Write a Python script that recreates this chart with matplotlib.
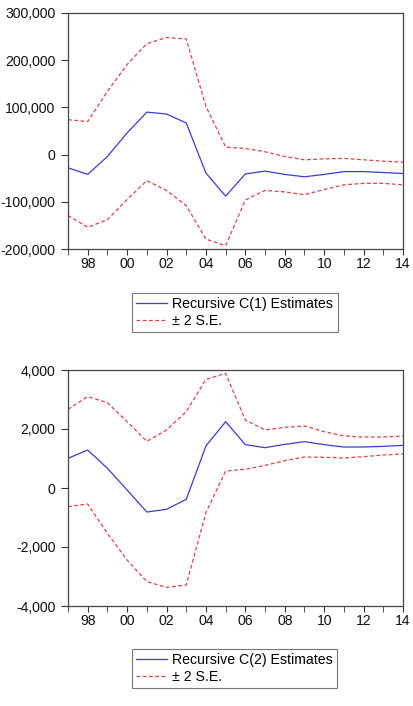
import numpy as np
import matplotlib.pyplot as plt
from matplotlib.ticker import FuncFormatter, MultipleLocator

# ── Data ──────────────────────────────────────────────────────────────────────
years = list(range(1997, 2015))

c1_est = [-28000, -42000, -4000, 46000, 90000, 86000, 67000, -39000, -88000,
          -41000, -35000, -42000, -47000, -42000, -36000, -36000, -38000, -40000]
c1_upper = [74000, 70000, 134000, 191000, 235000, 248000, 245000, 102000, 16000,
            13000, 6000, -4000, -11000, -9000, -8000, -11000, -14000, -16000]
c1_lower = [-129000, -154000, -138000, -95000, -55000, -76000, -108000, -179000, -193000,
            -96000, -76000, -79000, -85000, -74000, -64000, -61000, -61000, -64000]

c2_est = [1006, 1288, 667, -68, -814, -723, -384, 1424, 2249,
          1469, 1367, 1480, 1571, 1469, 1390, 1390, 1412, 1446]
c2_upper = [2667, 3096, 2893, 2249, 1582, 1966, 2588, 3684, 3887,
            2305, 1966, 2056, 2102, 1910, 1763, 1729, 1729, 1763]
c2_lower = [-633, -542, -1537, -2441, -3175, -3367, -3288, -836, 576,
            633, 768, 927, 1051, 1040, 1017, 1062, 1119, 1153]

BLUE = "#3b3bd6"
RED = "#e0404a"

plt.rcParams["font.family"] = ["Liberation Sans", "DejaVu Sans"]

fig = plt.figure(figsize=(4.13, 7.06), dpi=100)
W, H = 413, 706


def panel(rect_px, est, upper, lower, ylim, ystep, label, legend_px):
    x0, y0, x1, y1 = rect_px
    ax = fig.add_axes([x0 / W, 1 - y1 / H, (x1 - x0) / W, (y1 - y0) / H])
    l1, = ax.plot(years, est, color=BLUE, lw=0.9)
    l2, = ax.plot(years, upper, color=RED, lw=0.9, ls=(0, (3, 2)))
    ax.plot(years, lower, color=RED, lw=0.9, ls=(0, (3, 2)))

    ax.set_xlim(1997, 2014)
    ax.set_ylim(*ylim)
    ax.xaxis.set_minor_locator(MultipleLocator(1))
    ax.set_xticks(range(1998, 2015, 2))
    ax.xaxis.set_major_formatter(FuncFormatter(lambda v, p: f"{int(v) % 100:02d}"))
    ax.yaxis.set_major_locator(MultipleLocator(ystep))
    ax.yaxis.set_major_formatter(FuncFormatter(lambda v, p: f"{int(v):,}"))

    ax.tick_params(axis="both", which="both", direction="out", labelsize=10.1,
                   color="#333333", labelcolor="#111111")
    ax.tick_params(axis="x", which="both", length=4, pad=2)
    ax.tick_params(axis="y", length=5, pad=4)
    for s in ax.spines.values():
        s.set_color("#444444")
        s.set_linewidth(0.9)

    leg = fig.legend([l1, l2], [label, "± 2 S.E."], loc="upper left",
                     bbox_to_anchor=(legend_px[0] / W, 1 - legend_px[1] / H),
                     bbox_transform=fig.transFigure, fontsize=10.2, frameon=True,
                     fancybox=False, edgecolor="#555555", handlelength=2.2,
                     handletextpad=0.35, borderpad=0.3, labelspacing=0.2,
                     borderaxespad=0)
    leg.get_frame().set_linewidth(0.8)
    return ax


panel((68, 13, 403, 249), c1_est, c1_upper, c1_lower, (-200000, 300000), 100000,
      "Recursive C(1) Estimates", (132, 293))
panel((68, 370, 403, 606), c2_est, c2_upper, c2_lower, (-4000, 4000), 2000,
      "Recursive C(2) Estimates", (132, 649))

fig.savefig("out.png", dpi=100)
